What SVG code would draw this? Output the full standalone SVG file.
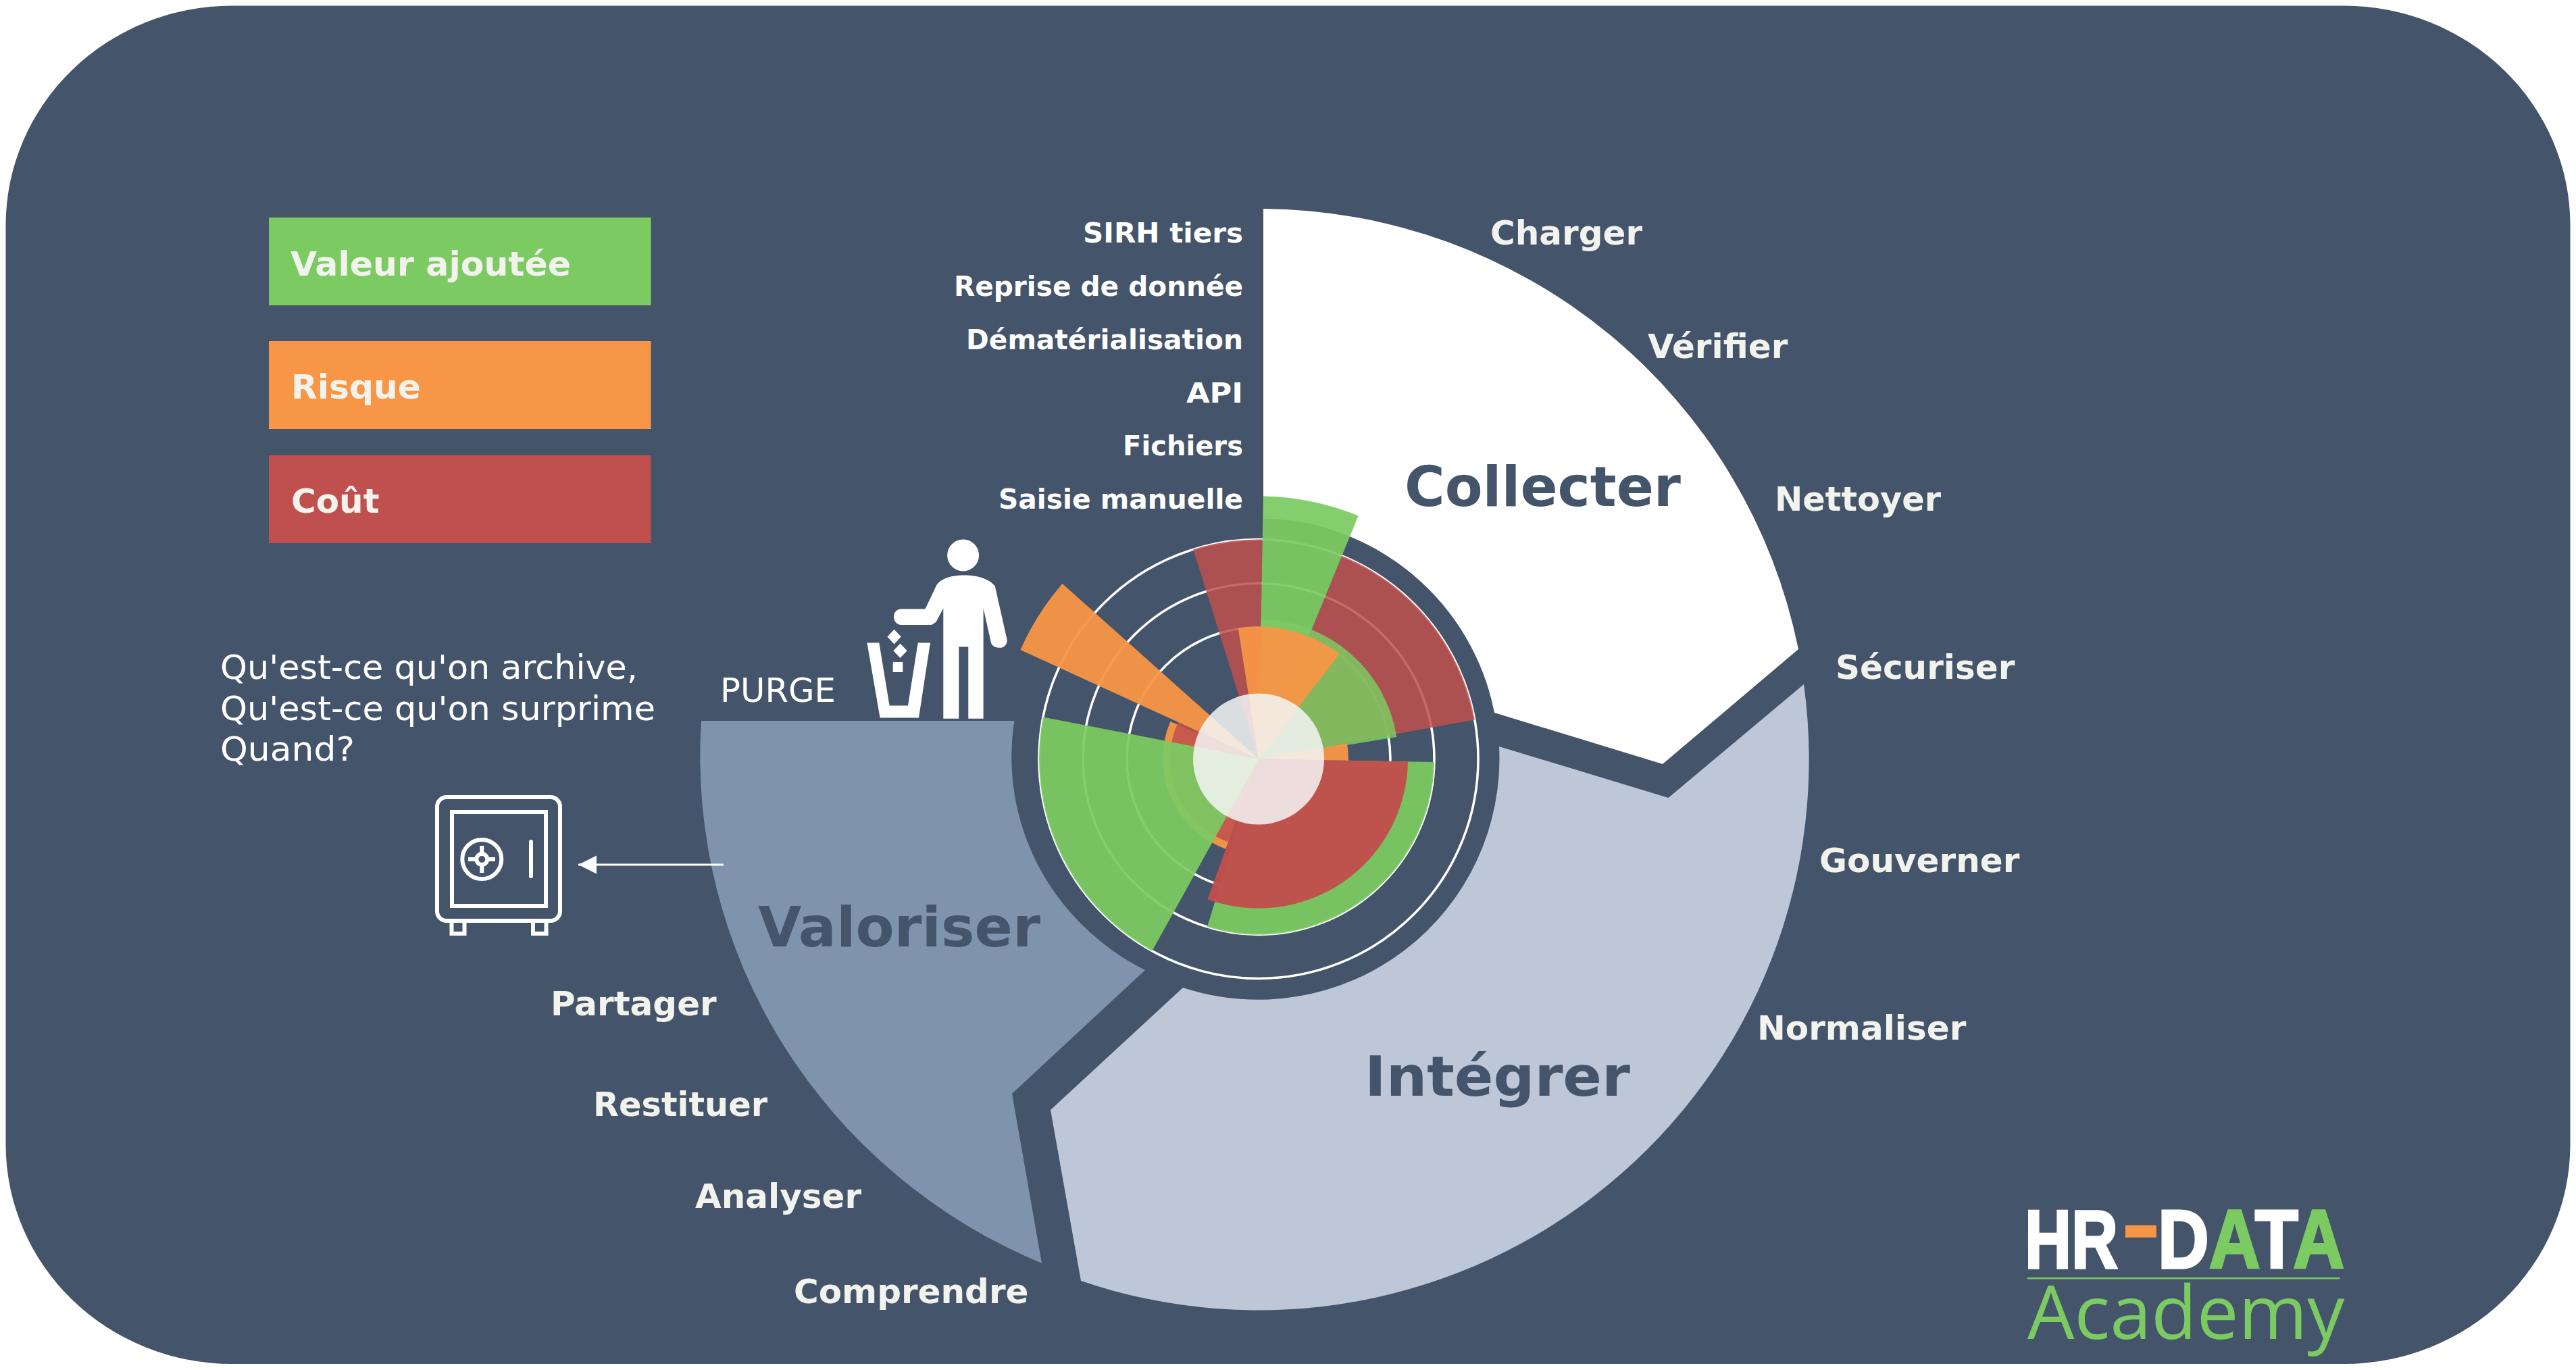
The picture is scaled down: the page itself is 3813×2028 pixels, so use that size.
<svg xmlns="http://www.w3.org/2000/svg" width="3813" height="2028" viewBox="0 0 3813 2028">
<style>
text{font-family:"DejaVu Sans","Liberation Sans",sans-serif}
.l{font-size:41px;font-weight:700;fill:#fff;text-anchor:end}
.r{font-size:50px;font-weight:700;fill:#f3f3ee}
.leg{font-size:50px;font-weight:700;fill:#f3f3ee}
.big{font-size:82px;font-weight:700;fill:#44546a}
.n{font-size:50px;fill:#fff}
.g{fill:#7cca62;fill-opacity:.93}
.g2{fill:#7cca62;fill-opacity:.86}
.o{fill:#f79646;fill-opacity:.95}
.c{fill:#c0504d;fill-opacity:.85}
.c2{fill:#c0504d;fill-opacity:.97}
.ring{fill:none;stroke:#fff;stroke-width:3.5}
.sf{fill:none;stroke:#fff;stroke-width:6}
.logo{font-family:"Liberation Sans",Arial,sans-serif;font-weight:700;font-size:122px;stroke-width:3.5}
</style>
<defs>
<marker id="ah" markerUnits="userSpaceOnUse" markerWidth="28" markerHeight="28" refX="27" refY="13.5" orient="auto"><path d="M0 0L27 13.5L0 27Z" fill="#fff"/></marker>
</defs>
<rect id="background" x="8.5" y="8.5" width="3796" height="2010.5" rx="335" ry="325" fill="#44546a"/>

<g id="legend-valeur"><rect x="398" y="322" width="565.5" height="130" fill="#7cca62"/><text class="leg" x="430" y="408" textLength="415" lengthAdjust="spacingAndGlyphs">Valeur ajoutée</text></g>
<g id="legend-risque"><rect x="398" y="505" width="565.5" height="130" fill="#f79646"/><text class="leg" x="431" y="590" textLength="192" lengthAdjust="spacingAndGlyphs">Risque</text></g>
<g id="legend-cout"><rect x="398" y="674" width="565.5" height="130" fill="#c0504d"/><text class="leg" x="431" y="759">Coût</text></g>

<g id="collecter"><path d="M1870 309A814 814 0 0 1 2662 961L2461 1131L2212 1055A356 356 0 0 0 1870 767.5Z" fill="#fff"/><text class="big" x="2079" y="749" textLength="409" lengthAdjust="spacingAndGlyphs">Collecter</text></g>
<g id="integrer"><path d="M2670 1013A815 815 0 0 1 1600 1896L1555 1643L1751 1462A357 357 0 0 0 2219 1105L2469.5 1181Z" fill="#bdc7d7"/><text class="big" x="2020" y="1622" textLength="393" lengthAdjust="spacingAndGlyphs">Intégrer</text></g>
<g id="valoriser"><path d="M1038 1067A826 815 0 0 0 1542 1870L1498 1619L1695 1436A366 355 0 0 1 1501.5 1067Z" fill="#7f93ad"/><text class="big" x="1122" y="1401" textLength="418" lengthAdjust="spacingAndGlyphs">Valoriser</text></g>

<g id="chart">
<circle class="ring" cx="1863" cy="1123.5" r="325"/>
<circle class="ring" cx="1863" cy="1123.5" r="260"/>
<circle class="ring" cx="1863" cy="1123.5" r="195"/>
<path class="c" d="M1863 1123.5L1986.3 822.8A325 325 0 0 1 2182.8 1065.4Z"/>
<path class="c" d="M1863 1123.5L1766.3 813.2A325 325 0 0 1 1868.7 798.6Z"/>
<path class="g2" d="M1863 1123.5L1866.6 916.5A207 207 0 0 1 2067.4 1091.1Z"/>
<path class="g" d="M1863 1123.5L1869.8 734.6A389 389 0 0 1 2010.6 763.6Z"/>
<path class="o" d="M1863 1123.5L1832.7 929.9A196 196 0 0 1 1982.6 968.2Z"/>
<path class="o" d="M1863 1123.5L1994 1100.4A133 133 0 0 1 1996 1126Z"/>
<path class="g" d="M1863 1123.5L2123 1128A260 260 0 0 1 1787 1372.1Z"/>
<path class="o" d="M1863 1123.5L1814.4 1256.9A142 142 0 0 1 1732.3 1068Z"/>
<path class="c" d="M1863 1123.5L1818.2 1246.6A131 131 0 0 1 1744.3 1068.1Z"/>
<path class="c2" d="M1863 1123.5L2084 1127.4A221 221 0 0 1 1787.4 1331.2Z"/>
<path class="g" d="M1863 1123.5L1705.4 1407.7A325 325 0 0 1 1544 1061.5Z"/>
<path class="o" d="M1863 1123.5L1510.4 962A389 389 0 0 1 1572.5 864Z"/>
<circle cx="1863" cy="1123.5" r="97" fill="#f5f5f5" fill-opacity=".86"/>
</g>

<g id="labels-sources">
<text class="l" x="1840" y="359" textLength="237" lengthAdjust="spacingAndGlyphs">SIRH tiers</text>
<text class="l" x="1840" y="438" textLength="428" lengthAdjust="spacingAndGlyphs">Reprise de donnée</text>
<text class="l" x="1840" y="517" textLength="410" lengthAdjust="spacingAndGlyphs">Dématérialisation</text>
<text class="l" x="1840" y="596" textLength="84" lengthAdjust="spacingAndGlyphs">API</text>
<text class="l" x="1840" y="674" textLength="178" lengthAdjust="spacingAndGlyphs">Fichiers</text>
<text class="l" x="1840" y="753" textLength="362" lengthAdjust="spacingAndGlyphs">Saisie manuelle</text>
</g>
<g id="labels-steps">
<text class="r" x="2206" y="362">Charger</text>
<text class="r" x="2439" y="530">Vérifier</text>
<text class="r" x="2627" y="756" textLength="246" lengthAdjust="spacingAndGlyphs">Nettoyer</text>
<text class="r" x="2717" y="1005">Sécuriser</text>
<text class="r" x="2693" y="1291">Gouverner</text>
<text class="r" x="2601" y="1539">Normaliser</text>
<text class="r" x="815" y="1503">Partager</text>
<text class="r" x="878" y="1652" textLength="258" lengthAdjust="spacingAndGlyphs">Restituer</text>
<text class="r" x="1029" y="1788">Analyser</text>
<text class="r" x="1175" y="1929">Comprendre</text>
</g>

<g id="question"><text class="n" x="326" y="1005" textLength="618" lengthAdjust="spacingAndGlyphs">Qu'est-ce qu'on archive,</text><text class="n" x="326" y="1066" textLength="644" lengthAdjust="spacingAndGlyphs">Qu'est-ce qu'on surprime</text><text class="n" x="326" y="1126" textLength="199" lengthAdjust="spacingAndGlyphs">Quand?</text></g>
<g id="purge"><text class="n" x="1066" y="1039" textLength="171" lengthAdjust="spacingAndGlyphs">PURGE</text>
<circle cx="1425.6" cy="822" r="23.5" fill="#fff"/>
<path fill="#fff" d="M1427 851.4C1405 851.4 1390 858 1385.5 867.8L1369.5 901.6H1334.4C1327 901.6 1323 907 1323 912.7C1323 919 1327 924.9 1334.4 924.9H1379L1385.5 920.8L1396.3 900.4V1063.7H1419.3V957.6H1433.3V1063.7H1455.6V900.4L1467 951.4C1469 957 1474 958.8 1480 958.8C1487 958.8 1491 953 1490.7 947.3L1472.8 867.8C1466 858 1449 851.4 1427 851.4Z"/>
<path fill="#fff" d="M1283.4 951.4L1302.6 1062.4H1360L1377 951.4H1358.7L1344 1044.5H1316.6L1301.3 951.4Z"/>
<path fill="#fff" d="M1323.6 931.8L1333.8 942.4L1323.6 953.5L1313.4 942.4ZM1332.5 952.7L1342.7 963.3L1332.5 973.9L1322.3 963.3ZM1321.7 980H1336.4V995H1321.7Z"/>
</g>
<g id="safe">
<rect class="sf" x="647" y="1180" width="182" height="183" rx="14"/>
<rect class="sf" x="669" y="1202" width="139" height="139"/>
<circle class="sf" cx="713.3" cy="1272" r="29" stroke-width="5"/>
<circle class="sf" cx="713.3" cy="1272" r="8" stroke-width="4"/>
<path class="sf" stroke-width="4" d="M713.3 1252V1264M713.3 1280V1292M693 1272H705M721 1272H733"/>
<path class="sf" stroke-linecap="round" d="M786 1246V1297"/>
<path class="sf" stroke-width="5" d="M668.5 1366V1382H687.5V1366M789 1366V1382H808.5V1366"/>
</g>
<g id="connectors"><line x1="1071" y1="1280" x2="856" y2="1280" stroke="#fff" stroke-width="3" marker-end="url(#ah)"/></g>
<g id="logo">
<text class="logo" x="2997" y="1877" fill="#fff" stroke="#fff" textLength="138" lengthAdjust="spacingAndGlyphs">HR</text>
<text class="logo" x="3142" y="1855" fill="#f79646" stroke="#f79646" textLength="54" lengthAdjust="spacingAndGlyphs">-</text>
<text class="logo" x="3194" y="1877" fill="#7cca62" stroke="#7cca62" textLength="276" lengthAdjust="spacingAndGlyphs"><tspan fill="#fff" stroke="#fff">D</tspan>A<tspan fill="#fff" stroke="#fff">T</tspan>A</text>
<rect x="3001" y="1891" width="462.5" height="2.5" fill="#7cca62"/>
<text x="3001" y="1982" font-size="110" fill="#7cca62" style="font-family:'Open Sans','Noto Sans',sans-serif">Academy</text>
</g>
</svg>
